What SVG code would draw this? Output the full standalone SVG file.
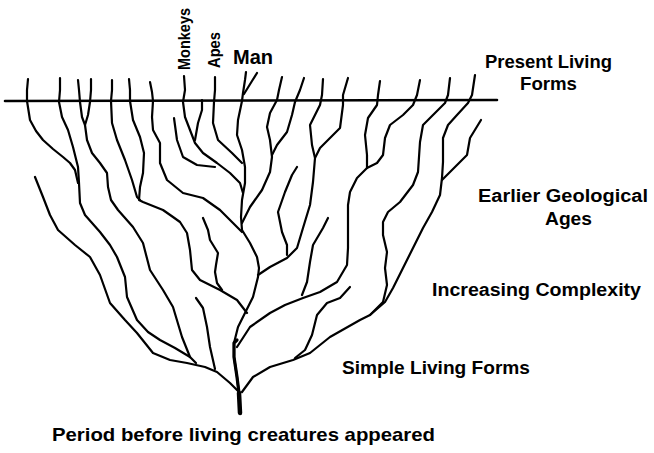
<svg xmlns="http://www.w3.org/2000/svg" width="654" height="453" viewBox="0 0 654 453">
<style>
.b{fill:none;stroke:#000;stroke-width:2.2;stroke-linecap:round;stroke-linejoin:round}
.t{fill:#000;font-family:"Liberation Sans",Arial,sans-serif;font-weight:bold}
</style>
<rect width="654" height="453" fill="#fff"/>
<g id="horizon">
<path class="b" d="M5,101 L497,100" style="stroke-width:2.6"/>
</g>
<g id="tree">
<path id="central" class="b" d="M246,72 L245,80 L243,93 L242,101 L238,120 L237,135 L242,150 L245,167 L245,183 L242,200 L241,217 L242,230 L250,243 L257,257 L259,268 L258,277 L253,297 L245,313 L238,327 L234,343 L234,357 L237,377 L239,393 L240,413"/>
<path class="b" d="M237,340 L234,343 L234,357 L237,377 L239,393" style="stroke-width:3.2"/>
<path class="b" d="M239,393 L240,413" style="stroke-width:4.5"/>
<path class="b" d="M257,73 L252,81 L244,94"/>
<path class="b" d="M35,177 L43,197 L50,215 L58,230 L75,245 L90,257 L100,275 L110,303 L125,320 L137,333 L153,353 L170,360 L187,363 L205,367 L217,372 L230,383 L240,393"/>
<path class="b" d="M28,79 L27,90 L27,101 L30,120 L36,131 L43,140 L53,149 L63,157 L70,163 L75,170 L78,183"/>
<path class="b" d="M60,78 L60,90 L59,102 L62,117 L68,130 L73,147 L78,167 L79,183 L80,203 L85,215 L100,232 L110,245 L117,257 L125,277 L127,297 L137,320 L148,332 L160,340 L175,348 L190,357 L196,363"/>
<path class="b" d="M78,80 L79,90 L80,102 L82,117 L85,125"/>
<path class="b" d="M91,79 L91,90 L90,102 L88,115 L85,125 L87,140 L92,153 L100,163 L107,173 L108,187 L111,200 L118,210 L133,227 L143,243 L150,270 L163,290 L173,307 L182,337 L190,357"/>
<path class="b" d="M112,80 L112,90 L111,101 L112,123 L117,140 L125,160 L132,180 L137,197 L140,200"/>
<path class="b" d="M129,79 L130,90 L130,101 L133,120 L140,137 L144,153 L143,173 L140,187 L139,200 L143,202 L163,210 L173,217 L180,222 L187,233 L190,250 L192,270 L200,280 L220,290 L237,300 L247,313"/>
<path class="b" d="M150,82 L152,92 L153,101 L152,117 L153,130 L160,143 L160,163 L167,180 L183,193 L203,198 L220,210 L233,223 L242,232"/>
<path class="b" d="M174,118 L177,140 L183,157 L197,165 L215,167"/>
<path id="monkeys-line" class="b" d="M184,76 L185,90 L183,102 L185,117 L190,130 L195,143 L203,153 L217,163 L230,173 L240,183 L243,193"/>
<path class="b" d="M202,100 L202,110 L198,123 L195,140"/>
<path id="apes-line" class="b" d="M215,77 L215,90 L214,102 L213,123 L218,140 L232,153 L242,163"/>
<path class="b" d="M282,77 L279,90 L277,100 L270,113 L267,127 L270,140 L272,157 L270,172 L262,190 L250,207 L242,223"/>
<path class="b" d="M304,78 L300,90 L295,102 L292,115 L287,132 L277,145 L272,155"/>
<path class="b" d="M323,79 L322,95 L320,105 L310,125 L312,145 L315,158 L313,182 L310,205 L303,228 L297,248 L287,258 L270,267 L258,275"/>
<path class="b" d="M348,78 L343,95 L343,105 L340,128 L330,138 L320,148 L315,158"/>
<path class="b" d="M297,167 L292,175 L285,192 L278,212 L282,232 L287,245 L287,255"/>
<path class="b" d="M380,81 L378,95 L377,105 L368,118 L365,135 L367,155 L367,168 L357,178 L350,192 L348,205 L348,228 L348,248 L347,265 L337,282 L320,292 L303,298 L285,305 L270,313 L250,327 L237,347"/>
<path class="b" d="M328,218 L323,228 L313,245 L310,262 L307,282 L302,295"/>
<path class="b" d="M420,80 L417,95 L413,105 L403,115 L390,125 L385,138 L383,155 L377,163 L367,168"/>
<path class="b" d="M450,78 L448,95 L445,103 L433,115 L423,125 L420,142 L418,172 L413,185 L400,202 L388,212 L383,222 L383,235 L387,252 L385,268 L387,285 L383,302 L370,315"/>
<path class="b" d="M475,75 L472,95 L468,103 L457,115 L448,125 L443,138 L443,162 L442,178 L440,195 L432,212 L423,228 L413,248 L403,268 L393,288 L385,302 L370,315 L360,320 L330,337 L310,353 L293,360 L270,367 L253,377 L242,392"/>
<path class="b" d="M481,120 L470,138 L467,155 L457,165 L447,175 L442,180"/>
<path class="b" d="M350,287 L340,298 L327,303 L317,315 L312,335 L305,350 L295,358"/>
<path class="b" d="M203,218 L208,230 L210,240 L218,253 L216,265 L215,272 L217,283 L222,290"/>
<path class="b" d="M196,298 L203,308 L207,327 L210,347 L215,369"/>
</g>
<g id="labels">
<text class="t" font-size="16" transform="translate(190,70) rotate(-90)" textLength="62" lengthAdjust="spacingAndGlyphs">Monkeys</text>
<text class="t" font-size="16" transform="translate(220,68) rotate(-90)" textLength="36" lengthAdjust="spacingAndGlyphs">Apes</text>
<text class="t" x="233" y="64" font-size="20" textLength="40" lengthAdjust="spacingAndGlyphs">Man</text>
<text class="t" x="485" y="68" font-size="18" textLength="127" lengthAdjust="spacingAndGlyphs">Present Living</text>
<text class="t" x="520" y="90" font-size="18" textLength="57" lengthAdjust="spacingAndGlyphs">Forms</text>
<text class="t" x="478" y="202" font-size="18" textLength="170" lengthAdjust="spacingAndGlyphs">Earlier Geological</text>
<text class="t" x="545" y="225" font-size="18" textLength="47" lengthAdjust="spacingAndGlyphs">Ages</text>
<text class="t" x="432" y="296" font-size="18" textLength="209" lengthAdjust="spacingAndGlyphs">Increasing Complexity</text>
<text class="t" x="342" y="374" font-size="18" textLength="188" lengthAdjust="spacingAndGlyphs">Simple Living Forms</text>
<text class="t" x="52" y="441" font-size="19" textLength="383" lengthAdjust="spacingAndGlyphs">Period before living creatures appeared</text>
</g>
</svg>
